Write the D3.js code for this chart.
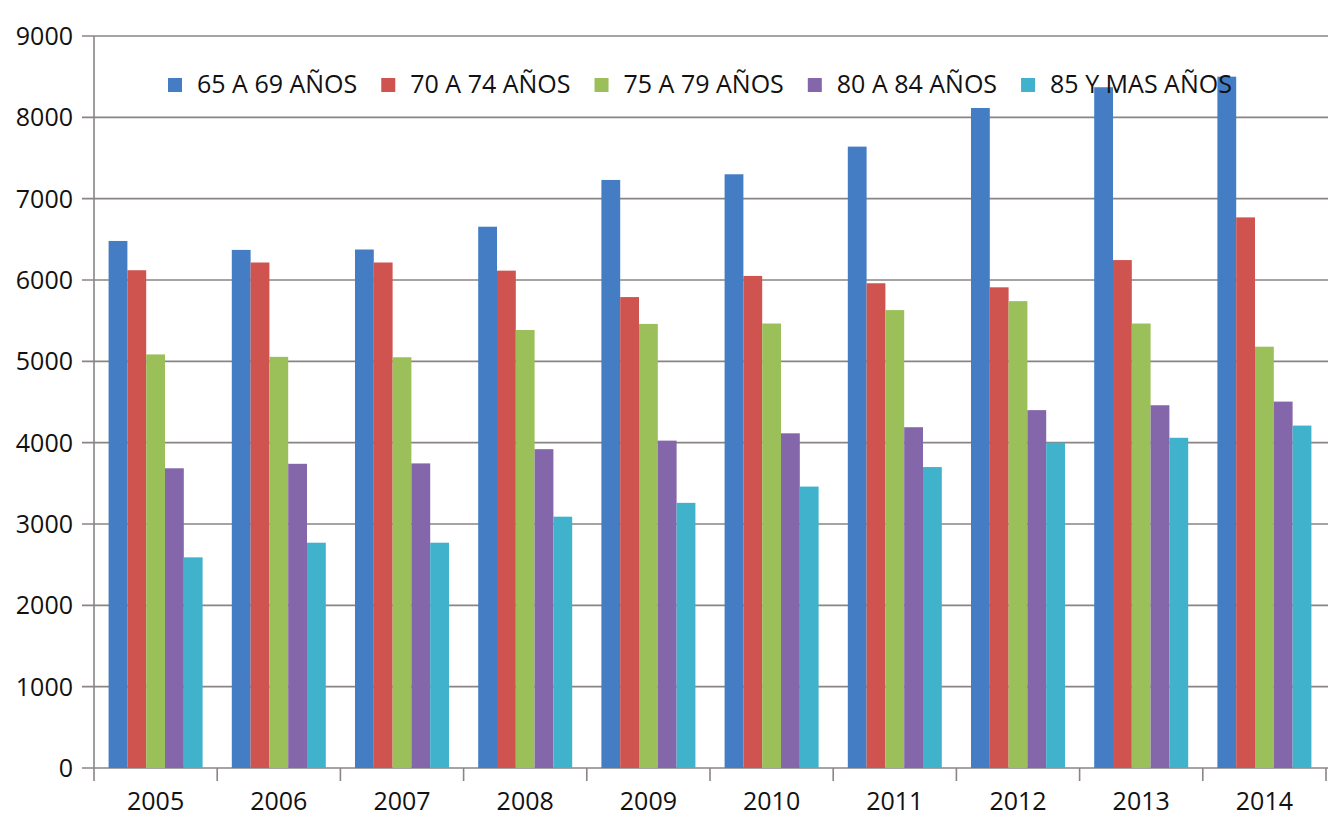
<!DOCTYPE html>
<html>
<head>
<meta charset="utf-8">
<script src="https://cdn.jsdelivr.net/npm/d3@7"></script>
<style>
  html, body { margin: 0; padding: 0; background: #fff; }
  svg text { font-family: "Open Sans", sans-serif; fill: #111; }
</style>
</head>
<body>
<div id="chart"></div>
<script>
// data
var years = ['2005', '2006', '2007', '2008', '2009', '2010', '2011', '2012', '2013', '2014'];
var seriesNames = ['65 A 69 AÑOS', '70 A 74 AÑOS', '75 A 79 AÑOS', '80 A 84 AÑOS', '85 Y MAS AÑOS'];
var s65 = [6480, 6370, 6375, 6655, 7230, 7300, 7640, 8115, 8370, 8500];
var s70 = [6120, 6215, 6215, 6115, 5790, 6050, 5960, 5910, 6245, 6770];
var s75 = [5085, 5055, 5050, 5385, 5460, 5465, 5630, 5740, 5465, 5180];
var s80 = [3685, 3740, 3745, 3920, 4025, 4115, 4190, 4400, 4460, 4505];
var s85 = [2590, 2770, 2770, 3090, 3260, 3460, 3700, 4000, 4060, 4210];
var yTicks = [0, 1000, 2000, 3000, 4000, 5000, 6000, 7000, 8000, 9000];
var colors = ['#447dc4', '#cf534e', '#9bc05a', '#8466aa', '#40b2cb'];

(function () {
  var values = [s65, s70, s75, s80, s85];

  var width = 1344, height = 816;
  var svg = d3.select('#chart').append('svg')
    .attr('width', width).attr('height', height);

  var plotLeft = 94, plotRight = 1326, plotTop = 36, plotBottom = 768;
  var axisColor = '#8a8583';
  var fontSize = '25px';

  var x0 = d3.scaleBand().domain(years).range([plotLeft, plotRight])
    .paddingInner(0.237).paddingOuter(0.1185);
  var x1 = d3.scaleBand().domain(d3.range(seriesNames.length)).range([0, x0.bandwidth()]);
  var y = d3.scaleLinear().domain([0, 9000]).range([plotBottom, plotTop]);

  // gridlines
  svg.append('g').selectAll('line').data(yTicks).enter().append('line')
    .attr('x1', plotLeft - 12).attr('x2', 1328)
    .attr('y1', function (d) { return y(d); })
    .attr('y2', function (d) { return y(d); })
    .attr('stroke', axisColor).attr('stroke-width', 1.6);

  // y labels
  svg.append('g').selectAll('text').data(yTicks).enter().append('text')
    .attr('x', 73).attr('y', function (d) { return y(d); })
    .attr('dy', '0.36em')
    .attr('text-anchor', 'end')
    .style('font-size', fontSize)
    .text(function (d) { return d; });

  // bars
  var groups = svg.append('g').selectAll('g').data(years).enter().append('g')
    .attr('transform', function (d) { return 'translate(' + x0(d) + ',0)'; });

  groups.selectAll('rect')
    .data(function (d, i) { return values.map(function (s, k) { return { k: k, v: s[i] }; }); })
    .enter().append('rect')
    .attr('x', function (d) { return x1(d.k); })
    .attr('width', x1.bandwidth())
    .attr('y', function (d) { return y(d.v); })
    .attr('height', function (d) { return y(0) - y(d.v); })
    .attr('fill', function (d) { return colors[d.k]; });

  // axis lines
  svg.append('line').attr('x1', plotLeft).attr('x2', plotLeft).attr('y1', plotTop).attr('y2', plotBottom)
    .attr('stroke', axisColor).attr('stroke-width', 1.6);

  var bounds = d3.range(years.length + 1).map(function (i) {
    return plotLeft + i * (plotRight - plotLeft) / years.length;
  });
  svg.append('g').selectAll('line').data(bounds).enter().append('line')
    .attr('x1', function (d) { return d; }).attr('x2', function (d) { return d; })
    .attr('y1', plotBottom).attr('y2', plotBottom + 13)
    .attr('stroke', axisColor).attr('stroke-width', 1.6);

  // x labels
  svg.append('g').selectAll('text').data(years).enter().append('text')
    .attr('x', function (d) { return x0(d) + x0.bandwidth() / 2; })
    .attr('y', 810)
    .attr('text-anchor', 'middle')
    .style('font-size', fontSize)
    .text(function (d) { return d; });

  // legend, drawn over the bars
  var legend = svg.append('g');
  var lx = 168;
  seriesNames.forEach(function (name, k) {
    legend.append('rect').attr('x', lx).attr('y', 78).attr('width', 14).attr('height', 14)
      .attr('fill', colors[k]);
    var t = legend.append('text').attr('x', lx + 29).attr('y', 93)
      .style('font-size', fontSize).text(name);
    lx += 29 + t.node().getComputedTextLength() + 24;
  });
})();
</script>
</body>
</html>
